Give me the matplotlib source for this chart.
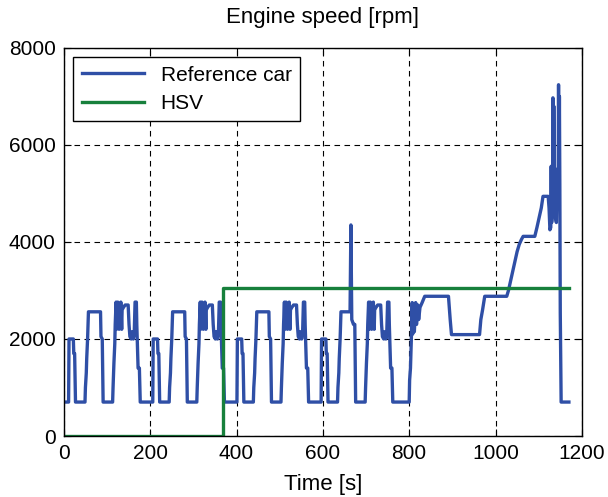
import matplotlib
matplotlib.use("Agg")
import matplotlib.pyplot as plt
import numpy as np

plt.rcParams['font.family'] = ['Liberation Sans', 'DejaVu Sans']

# urban (ECE) part, time relative to the start of each repetition [s] / engine speed [rpm]
ece_t = [0, 11, 12, 22, 23, 25, 27, 49, 50, 52, 53, 55, 57, 85, 86, 89, 91,
         113, 114, 116, 118, 119, 121, 122, 123, 125, 126, 128, 130, 132, 134, 135,
         138, 142, 149, 151, 153, 156, 158, 161, 163, 165, 168, 169, 172, 175, 177, 195]
ece_rpm = [700, 700, 2000, 2000, 1700, 1700, 700, 700, 1000, 1300, 1600, 2000, 2560, 2560, 2050, 2000, 700,
           700, 1000, 1500, 1900, 2300, 2760, 2200, 2300, 2760, 2300, 2200, 2400, 2760, 2200, 2600,
           2650, 2700, 2700, 2300, 2050, 2000, 2150, 2000, 2100, 2760, 2760, 2300, 1400, 1400, 700, 700]

# fourth repetition has the spike at the end of the 32 km/h hold
ece4_t = [0, 11, 12, 22, 23, 25, 27, 49, 50, 52, 53, 55, 57, 78, 80, 82, 86, 89, 91,
          113, 114, 116, 118, 119, 121, 122, 123, 125, 126, 128, 130, 132, 134, 135,
          138, 142, 149, 151, 153, 156, 158, 161, 163, 165, 168, 169, 172, 175, 177, 195]
ece4_rpm = [700, 700, 2000, 2000, 1700, 1700, 700, 700, 1000, 1300, 1600, 2000, 2560, 2560, 4350, 2400, 2300, 2300, 700,
            700, 1000, 1500, 1900, 2300, 2760, 2200, 2300, 2760, 2300, 2200, 2400, 2760, 2200, 2600,
            2650, 2700, 2700, 2300, 2050, 2000, 2150, 2000, 2100, 2760, 2760, 2300, 1400, 1400, 700, 700]
ece_starts = [0, 195, 390, 585]

# extra-urban part, absolute time [s]
eudc_t = [800, 801, 803, 805, 807, 808, 810, 812, 815, 817, 820, 822, 825, 830, 836,
          891, 895, 898, 963, 966, 970, 975, 1026, 1030, 1035, 1040, 1045, 1050, 1055, 1060, 1064,
          1091, 1096, 1101, 1106, 1110, 1122, 1124, 1126, 1128, 1129, 1130, 1132, 1133, 1134, 1135,
          1137, 1139, 1141, 1143, 1145, 1146, 1147, 1148, 1149, 1150, 1152, 1170]
eudc_rpm = [700, 1150, 1400, 2000, 2750, 2100, 2700, 2150, 2750, 2300, 2700, 2400, 2650, 2750, 2880,
            2880, 2400, 2090, 2090, 2400, 2600, 2880, 2880, 3000, 3200, 3400, 3600, 3800, 3950, 4050, 4115,
            4115, 4300, 4500, 4700, 4940, 4940, 4700, 4250, 4300, 5560, 4400, 4600, 6970, 5000, 6800,
            4800, 4500, 4400, 5500, 4700, 7240, 5000, 7000, 5150, 2540, 700, 700]

hsv_t = [0, 368, 368, 1170]
hsv_rpm = [0, 0, 3050, 3050]

ref_t = []
ref_rpm = []
for k, s in enumerate(ece_starts):
    tt, rr = (ece4_t, ece4_rpm) if k == 3 else (ece_t, ece_rpm)
    ref_t += [s + v for v in tt]
    ref_rpm += rr
ref_t += eudc_t
ref_rpm += eudc_rpm

fig = plt.figure(figsize=(6.08, 4.97), dpi=100)
ax = fig.add_axes([0.105, 0.1227, 0.852, 0.781])

ax.plot(ref_t, ref_rpm, color='#2f4fa6', lw=2.4, label='Reference car')
ax.plot(hsv_t, hsv_rpm, color='#17803c', lw=2.4, label='HSV')

ax.set_xlim(0, 1200)
ax.set_ylim(0, 8000)
ax.set_xticks(np.arange(0, 1201, 200))
ax.set_yticks(np.arange(0, 8001, 2000))
ax.grid(True, color='black', ls=(0, (5, 4)), lw=0.8)
ax.tick_params(direction='in', top=True, right=True, length=5, labelsize=15, pad=6)
for sp in ax.spines.values():
    sp.set_linewidth(1.0)

ax.set_title('Engine speed [rpm]', fontsize=16, pad=18)
ax.set_xlabel('Time [s]', fontsize=16, labelpad=8)

leg = ax.legend(loc='upper left', fontsize=15, handlelength=3.0, fancybox=False,
                edgecolor='black', framealpha=1, borderaxespad=0.45,
                borderpad=0.4, labelspacing=0.45)
leg.get_frame().set_linewidth(1.0)

fig.savefig('out.png', dpi=100)
